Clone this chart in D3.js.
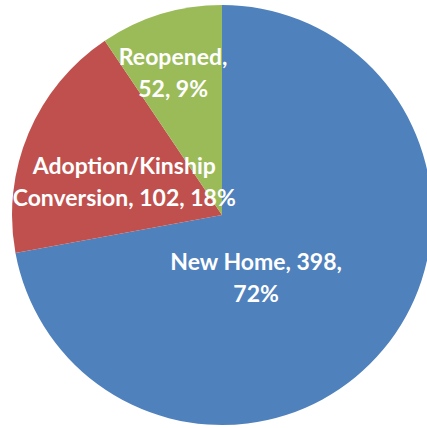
<!DOCTYPE html>
<html>
<head>
<meta charset="utf-8">
<script src="https://cdn.jsdelivr.net/npm/d3@7"></script>
<style>
  body { margin: 0; background: #fff; }
  text { font-family: Lato, "Open Sans", sans-serif; font-weight: 700; }
</style>
</head>
<body>
<svg id="chart"></svg>
<script>
const width = 427;
const height = 428;

// data
const categories = ["New Home", "Adoption/Kinship Conversion", "Reopened"];
const counts = [398, 102, 52];
const percents = ["72%", "18%", "9%"];
const labelLines = [
  ["New Home, 398,", "72%"],
  ["Adoption/Kinship", "Conversion, 102, 18%"],
  ["Reopened,", "52, 9%"]
];

const colors = ["#4F81BD", "#C0504D", "#9BBB59"];

const cx = 222, cy = 215, radius = 210;

// label placement: radius fraction and nudge from the arc point
const labelRadius = [0.36, 0.5, 0.7];
const labelNudge = [[-24, 12], [-1, 5], [-6, -4]];

const svg = d3.select("#chart")
  .attr("width", width)
  .attr("height", height);

const g = svg.append("g")
  .attr("transform", `translate(${cx},${cy})`);

const pie = d3.pie().sort(null).value(d => d)(counts);

const arc = d3.arc().innerRadius(0).outerRadius(radius);

g.selectAll("path")
  .data(pie)
  .join("path")
  .attr("d", arc)
  .attr("fill", (d, i) => colors[i]);

const labels = g.selectAll("text.lbl")
  .data(pie)
  .join("text")
  .attr("class", "lbl")
  .attr("fill", "#fff")
  .attr("font-size", 23)
  .attr("text-anchor", "middle")
  .attr("transform", (d, i) => {
    const r = radius * labelRadius[i];
    const [x, y] = d3.arc().innerRadius(r).outerRadius(r).centroid(d);
    return `translate(${x + labelNudge[i][0]},${y + labelNudge[i][1]})`;
  });

labels.selectAll("tspan")
  .data((d, i) => labelLines[i])
  .join("tspan")
  .attr("x", 0)
  .attr("y", (d, j) => j * 32 - 5)
  .text(d => d);
</script>
</body>
</html>
